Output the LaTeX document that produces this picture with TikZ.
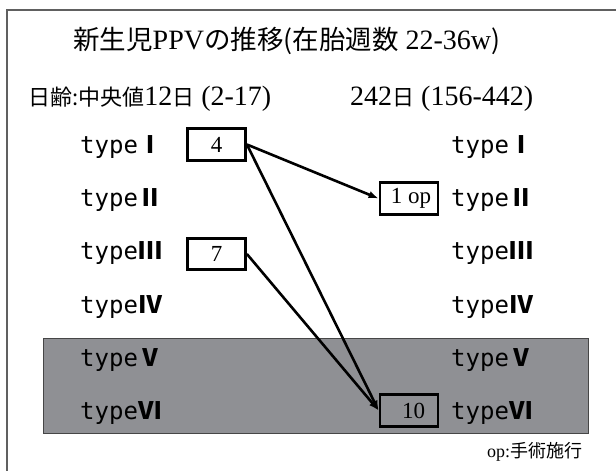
\documentclass[tikz,border=0pt]{standalone}
\usepackage{fontspec}
\setmainfont{Liberation Serif}
\newfontfamily\jp{Noto Sans CJK JP}
\newfontfamily\tmono{DejaVu Sans Mono}
\usetikzlibrary{arrows.meta}
\definecolor{shade}{RGB}{143,144,148}
\newcommand{\typename}[1]{{\tmono type}\makebox[25pt]{\jp\bfseries #1}}

\begin{document}
\begin{tikzpicture}[x=1pt, y=-1pt,
    numbox/.style={draw, line width=2.8pt, minimum width=58pt, minimum height=31.5pt,
      inner sep=0pt, font=\fontsize{23}{23}\selectfont},
    typelabel/.style={anchor=base west, inner sep=0pt, font=\fontsize{24}{24}\selectfont},
    arr/.style={-{Latex[length=10pt,width=7.5pt]}, line width=2.6pt}]
    \useasboundingbox (0,0) rectangle (616,471);
    % frame and shaded rows
    \draw[gray!75!black, line width=2pt] (6.5,471) -- (6.5,9.5) -- (616,9.5);
    \filldraw[fill=shade, draw=gray!55!black, line width=0.8pt] (43,338) rectangle (588,433);
    % headings
    \node[anchor=base west, inner sep=0pt] (title) at (73,49)
        {\fontsize{28}{28}\selectfont{\jp\fontsize{26.5}{26.5}\selectfont 新生児}PPV{\jp\fontsize{26.5}{26.5}\selectfont の推移(在胎週数} 22-36w{\jp\fontsize{26.5}{26.5}\selectfont )}};
    \node[anchor=base west, inner sep=0pt] (ageL) at (28,105)
        {\fontsize{28}{28}\selectfont{\jp\fontsize{22}{22}\selectfont 日齢:中央値}12{\jp\fontsize{22}{22}\selectfont 日} (2-17)};
    \node[anchor=base west, inner sep=0pt] (ageR) at (350,105)
        {\fontsize{28}{28}\selectfont 242{\jp\fontsize{22}{22}\selectfont 日} (156-442)};
    % type rows
    \foreach \n/\r/\y in {1/Ⅰ/153, 2/Ⅱ/206, 3/Ⅲ/259.5, 4/Ⅳ/313, 5/Ⅴ/366, 6/Ⅵ/419.5} {
        \node[typelabel] (l\n) at (80,\y) {\typename{\r}};
        \node[typelabel] (r\n) at (451,\y) {\typename{\r}};
    }
    % counts
    \node[numbox] (b4) at (216.5,144.5) {4};
    \node[numbox] (b7) at (216.5,254) {7};
    \node[numbox] (bop) at (409,198.5) {\hspace{4pt}1 op};
    \node[numbox] (b10) at (409,410.5) {\hspace{9pt}10};
    \draw[arr] (b4.east) -- (bop.west);
    \draw[arr] (b4.east) -- (b10.west);
    \draw[arr] (b7.east) -- (b10.west);
    \node[anchor=base west, inner sep=0pt] (note) at (487,457)
        {\fontsize{18}{18}\selectfont op:{\jp\fontsize{18}{18}\selectfont 手術施行}};
\end{tikzpicture}
\end{document}
